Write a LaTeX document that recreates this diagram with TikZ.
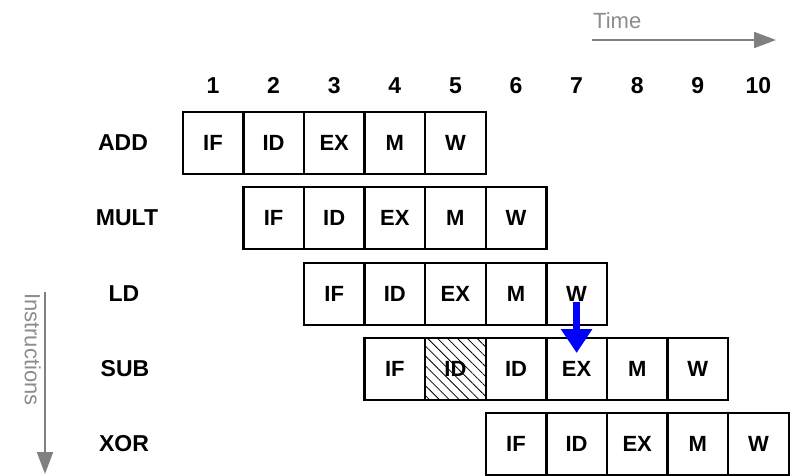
\documentclass[tikz,border=0pt]{standalone}
\usepackage{fontspec}
\setmainfont{Liberation Sans}
\usetikzlibrary{positioning, arrows.meta, patterns.meta, calc}
\definecolor{AxisGray}{RGB}{128, 128, 128}
\definecolor{LabelGray}{RGB}{140, 140, 140}
\definecolor{HazardBlue}{RGB}{0, 0, 255}

\begin{document}
\begin{tikzpicture}[
    x=1pt, y=-1pt,
    cell/.style={draw=black, line width=2.4pt, minimum width=60.6pt, minimum height=62pt,
      inner sep=0pt, font=\fontsize{22}{26}\selectfont\bfseries},
    stall/.style={cell, pattern={Lines[angle=-45, distance=7pt, line width=0.8pt]}},
    instr/.style={font=\fontsize{23}{27}\selectfont\bfseries},
    cycle/.style={font=\fontsize{23}{27}\selectfont\bfseries, text height=16.5pt, text depth=0pt},
    axis/.style={-{Triangle[length=22pt, width=16pt]}, AxisGray, line width=2pt},
    axislabel/.style={LabelGray, font=\fontsize{22}{26}\selectfont},
    hazard/.style={-{Triangle[length=24pt, width=30pt]}, HazardBlue, line width=7pt}
  ]
    \useasboundingbox (0,0) rectangle (800,475);

    % Clock cycles
    \foreach \c in {1,...,10} {
      \node[cycle] (c\c) at ({213+(\c-1)*60.6}, 85) {\c};
    }

    % Instructions
    \node[instr] (add) at (123, 143) {ADD};
    \node[instr] (mult) at (127, 218) {MULT};
    \node[instr] (ld) at (124, 294) {LD};
    \node[instr] (sub) at (125, 369) {SUB};
    \node[instr] (xor) at (124, 444) {XOR};

    % ADD stages
    \foreach \s/\c in {IF/1, ID/2, EX/3, M/4, W/5} {
      \node[cell] (add\c) at ({213+(\c-1)*60.6}, 143) {\s};
    }

    % MULT stages
    \foreach \s/\c in {IF/2, ID/3, EX/4, M/5, W/6} {
      \node[cell] (mult\c) at ({213+(\c-1)*60.6}, 218) {\s};
    }

    % LD stages
    \foreach \s/\c in {IF/3, ID/4, EX/5, M/6, W/7} {
      \node[cell] (ld\c) at ({213+(\c-1)*60.6}, 294) {\s};
    }

    % SUB stages (stall in cycle 5)
    \node[cell] (sub4) at ({213+3*60.6}, 369) {IF};
    \node[stall] (sub5) at ({213+4*60.6}, 369) {ID};
    \foreach \s/\c in {ID/6, EX/7, M/8, W/9} {
      \node[cell] (sub\c) at ({213+(\c-1)*60.6}, 369) {\s};
    }

    % XOR stages
    \foreach \s/\c in {IF/6, ID/7, EX/8, M/9, W/10} {
      \node[cell] (xor\c) at ({213+(\c-1)*60.6}, 444) {\s};
    }

    % Forwarding
    \draw[hazard] ([yshift=-8pt]ld7.center) -- ([yshift=16pt]sub7.center);

    % Axes
    \coordinate (time-start) at (592, 40);
    \coordinate (time-end) at (776, 40);
    \draw[axis] (time-start) -- (time-end);
    \node[axislabel, anchor=south west, inner sep=0pt] (time) at (593, 29) {Time};

    \coordinate (instr-start) at (45, 292);
    \coordinate (instr-end) at (45, 474);
    \draw[axis] (instr-start) -- (instr-end);
    \node[axislabel, rotate=-90, anchor=north west, inner sep=0pt] (instructions) at (41, 293) {Instructions};
  \end{tikzpicture}
\end{document}
